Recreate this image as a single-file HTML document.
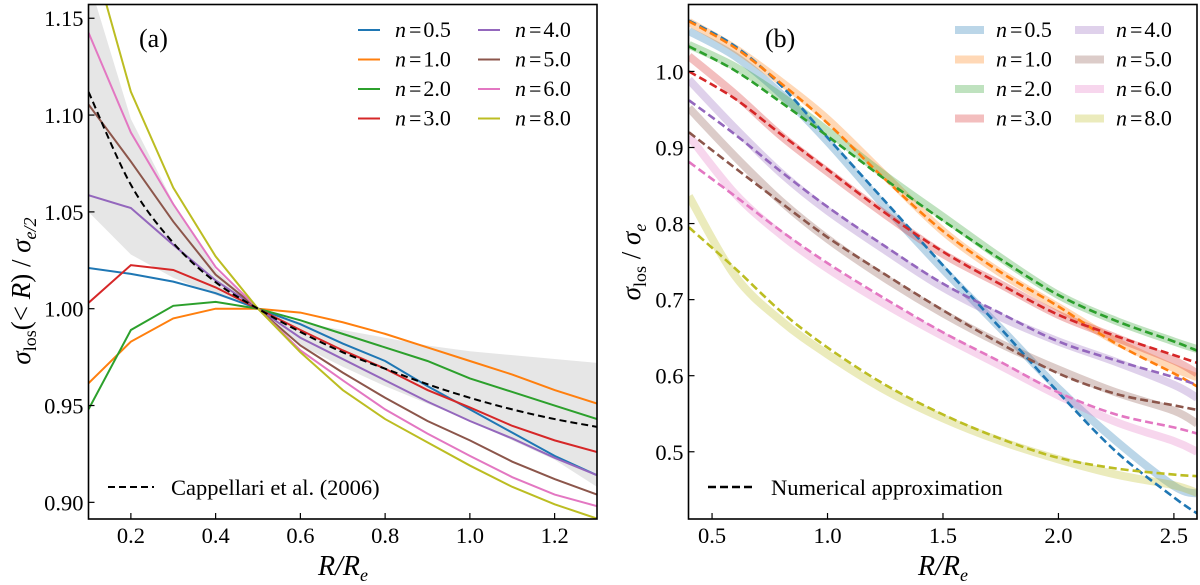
<!DOCTYPE html>
<html><head><meta charset="utf-8">
<style>
html,body{margin:0;padding:0;background:#fff;}
svg{display:block;font-family:"Liberation Serif","DejaVu Serif",serif;}
</style></head>
<body>
<svg id="fig" width="1200" height="585" viewBox="0 0 1200 585" xmlns="http://www.w3.org/2000/svg">
<defs>
<clipPath id="clipA"><rect x="88.5" y="4.5" width="508.5" height="514.5"/></clipPath>
<clipPath id="clipB"><rect x="688.5" y="4.5" width="508.5" height="514.5"/></clipPath>
</defs>
<g id="panelA"></g>
<g id="panelB"></g>
</svg>
<script>
// ---------- Panel (a) data ----------
const xA = [0.1,0.2,0.3,0.4,0.5,0.6,0.7,0.8,0.9,1.0,1.1,1.2,1.3];
const seriesNamesA = ["n = 0.5","n = 1.0","n = 2.0","n = 3.0","n = 4.0","n = 5.0","n = 6.0","n = 8.0"];
const n05A = [1.021,1.018,1.014,1.008,1.0,0.992,0.982,0.973,0.960,0.948,0.936,0.924,0.914];
const n10A = [0.9615,0.983,0.995,1.0,1.0,0.998,0.993,0.987,0.980,0.973,0.966,0.958,0.951];
const n20A = [0.948,0.989,1.0015,1.0035,1.0,0.994,0.987,0.980,0.973,0.964,0.957,0.950,0.943];
const n30A = [1.003,1.0225,1.020,1.011,1.0,0.989,0.9785,0.969,0.958,0.949,0.9395,0.932,0.926];
const n40A = [1.0586,1.052,1.033,1.0146,1.0,0.985,0.974,0.963,0.952,0.942,0.933,0.923,0.914];
const n50A = [1.1055,1.076,1.045,1.0176,1.0,0.981,0.967,0.954,0.942,0.932,0.921,0.912,0.904];
const n60A = [1.1426,1.091,1.054,1.0215,1.0,0.9785,0.963,0.948,0.9355,0.924,0.913,0.904,0.898];
const n80A = [1.19,1.112,1.0625,1.027,1.0,0.9775,0.958,0.943,0.931,0.919,0.908,0.899,0.8916];
const cappA = [1.112,1.064,1.034,1.0137,1.0,0.988,0.9775,0.969,0.961,0.954,0.948,0.943,0.939];
const bandUpperA = [1.17,1.098,1.055,1.02,1.0,0.993,0.989,0.985,0.981,0.978,0.976,0.974,0.972];
const bandLowerA = [1.05,1.028,1.016,1.007,1.0,0.981,0.970,0.960,0.951,0.942,0.932,0.922,0.908];
const xTicksA = [0.2,0.4,0.6,0.8,1.0,1.2];
const xTickLabelsA = ["0.2","0.4","0.6","0.8","1.0","1.2"];
const yTicksA = [0.90,0.95,1.00,1.05,1.10,1.15];
const yTickLabelsA = ["0.90","0.95","1.00","1.05","1.10","1.15"];

// ---------- Panel (b) data ----------
const xB = [0.4,0.6,0.8,1.0,1.25,1.5,1.75,2.0,2.25,2.5,2.6];
const band05B = [1.053,1.02,0.97,0.908,0.822,0.74,0.662,0.583,0.514,0.455,0.445];
const band10B = [1.065,1.03,0.986,0.937,0.863,0.79,0.735,0.69,0.645,0.61,0.598];
const band20B = [1.035,1.006,0.967,0.922,0.863,0.809,0.755,0.706,0.672,0.645,0.635];
const band30B = [1.02,0.97,0.915,0.868,0.812,0.76,0.72,0.68,0.65,0.62,0.603];
const band40B = [0.989,0.925,0.866,0.817,0.765,0.716,0.677,0.645,0.618,0.588,0.571];
const band50B = [0.952,0.888,0.829,0.78,0.728,0.682,0.642,0.608,0.578,0.554,0.537];
const band60B = [0.915,0.839,0.785,0.741,0.694,0.652,0.613,0.574,0.539,0.514,0.5];
const band80B = [0.836,0.731,0.672,0.628,0.581,0.544,0.514,0.49,0.47,0.456,0.446];
const approx05B = [1.067,1.033,0.981,0.913,0.829,0.745,0.662,0.578,0.5,0.44,0.419];
const approx10B = [1.066,1.031,0.984,0.932,0.858,0.79,0.736,0.691,0.642,0.603,0.586];
const approx20B = [1.033,1.001,0.959,0.915,0.858,0.804,0.753,0.706,0.672,0.645,0.633];
const approx30B = [1.0,0.964,0.917,0.871,0.814,0.763,0.72,0.68,0.652,0.627,0.617];
const approx40B = [0.962,0.917,0.868,0.822,0.77,0.721,0.682,0.645,0.62,0.598,0.588];
const approx50B = [0.92,0.873,0.827,0.782,0.733,0.686,0.642,0.603,0.576,0.561,0.555];
const approx60B = [0.881,0.836,0.79,0.748,0.701,0.657,0.618,0.578,0.549,0.532,0.524];
const approx80B = [0.795,0.741,0.684,0.637,0.588,0.549,0.517,0.492,0.478,0.47,0.468];
const xTicksB = [0.5,1.0,1.5,2.0,2.5];
const xTickLabelsB = ["0.5","1.0","1.5","2.0","2.5"];
const yTicksB = [0.5,0.6,0.7,0.8,0.9,1.0];
const yTickLabelsB = ["0.5","0.6","0.7","0.8","0.9","1.0"];

const colors = ["#1f77b4","#ff7f0e","#2ca02c","#d62728","#9467bd","#8c564b","#e377c2","#bcbd22"];
const NS = "http://www.w3.org/2000/svg";

function mk(tag, parent){ const e=document.createElementNS(NS,tag); parent.appendChild(e); return e; }

const axA = {x0:88.5,x1:597,y0:519,y1:4.5,xmin:0.1,xmax:1.3,ymin:0.8914,ymax:1.1571};
const axB = {x0:688.5,x1:1197,y0:519,y1:4.5,xmin:0.398,xmax:2.6,ymin:0.4116,ymax:1.088};
function sx(ax,v){ return ax.x0+(v-ax.xmin)/(ax.xmax-ax.xmin)*(ax.x1-ax.x0); }
function sy(ax,v){ return ax.y0-(v-ax.ymin)/(ax.ymax-ax.ymin)*(ax.y0-ax.y1); }

function linePath(ax,xs,ys){ return xs.map((x,i)=>(i?"L":"M")+sx(ax,x).toFixed(2)+","+sy(ax,ys[i]).toFixed(2)).join(""); }
function smoothPath(ax,xs,ys){
  const p=xs.map((x,i)=>[sx(ax,x),sy(ax,ys[i])]);
  let d="M"+p[0][0].toFixed(2)+","+p[0][1].toFixed(2);
  for(let i=0;i<p.length-1;i++){
    const p0=p[i-1]||p[i], p1=p[i], p2=p[i+1], p3=p[i+2]||p2;
    const c1=[p1[0]+(p2[0]-p0[0])/6, p1[1]+(p2[1]-p0[1])/6];
    const c2=[p2[0]-(p3[0]-p1[0])/6, p2[1]-(p3[1]-p1[1])/6];
    d+="C"+c1[0].toFixed(2)+","+c1[1].toFixed(2)+" "+c2[0].toFixed(2)+","+c2[1].toFixed(2)+" "+p2[0].toFixed(2)+","+p2[1].toFixed(2);
  }
  return d;
}

function drawAxes(g,ax,xt,xtl,yt,ytl,prefix){
  const fr=mk("rect",g);
  
  
  fr.setAttribute("x",ax.x0);fr.setAttribute("y",ax.y1);fr.setAttribute("width",ax.x1-ax.x0);fr.setAttribute("height",ax.y0-ax.y1);
  fr.setAttribute("fill","none");fr.setAttribute("stroke","#000");fr.setAttribute("stroke-width","1.6");
  xt.forEach((v,i)=>{
    const x=sx(ax,v);
    const t=mk("line",g);
    
    
    t.setAttribute("x1",x);t.setAttribute("x2",x);t.setAttribute("y1",ax.y0);t.setAttribute("y2",ax.y0-6);t.setAttribute("stroke","#000");t.setAttribute("stroke-width","1.2");
    const l=mk("text",g);
    
    
    l.setAttribute("x",x);l.setAttribute("y",ax.y0+24);l.setAttribute("text-anchor","middle");l.setAttribute("font-size","22.5");
    l.textContent=xtl[i];
  });
  yt.forEach((v,i)=>{
    const y=sy(ax,v);
    const t=mk("line",g);
    
    
    t.setAttribute("x1",ax.x0);t.setAttribute("x2",ax.x0+6);t.setAttribute("y1",y);t.setAttribute("y2",y);t.setAttribute("stroke","#000");t.setAttribute("stroke-width","1.2");
    const l=mk("text",g);
    
    
    l.setAttribute("x",ax.x0-5);l.setAttribute("y",y+8);l.setAttribute("text-anchor","end");l.setAttribute("font-size","22.5");
    l.textContent=ytl[i];
  });
}

function legendText(g,x,y,label,name){
  const t=mk("text",g);
  
  
  t.setAttribute("x",x);t.setAttribute("y",y+7);t.setAttribute("font-size","22");
  const val=label.split("= ")[1];
  t.innerHTML='<tspan font-style="italic">n</tspan><tspan dx="3">=</tspan><tspan dx="2">'+val+'</tspan>';
}

// ---------- panel (a) ----------
(function(){
  const g=document.getElementById("panelA");
  const ax=axA;
  const data=[n05A,n10A,n20A,n30A,n40A,n50A,n60A,n80A];
  const cg=mk("g",g); cg.setAttribute("clip-path","url(#clipA)");
  
  
  const band=mk("path",cg);
  
  
  const up=xA.map((x,i)=>[sx(ax,x),sy(ax,bandUpperA[i])]);
  const lo=xA.map((x,i)=>[sx(ax,x),sy(ax,bandLowerA[i])]).reverse();
  band.setAttribute("d","M"+up.concat(lo).map(p=>p[0].toFixed(2)+","+p[1].toFixed(2)).join("L")+"Z");
  band.setAttribute("fill","#e6e6e6");
  data.forEach((ys,k)=>{
    const p=mk("path",cg);
    
    
    p.setAttribute("d",linePath(ax,xA,ys));p.setAttribute("fill","none");p.setAttribute("stroke",colors[k]);p.setAttribute("stroke-width","2");
  });
  const c=mk("path",cg);
  
  
  c.setAttribute("d",smoothPath(ax,xA,cappA));c.setAttribute("fill","none");c.setAttribute("stroke","#000");c.setAttribute("stroke-width","2");c.setAttribute("stroke-dasharray","7,4");
  drawAxes(g,ax,xTicksA,xTickLabelsA,yTicksA,yTickLabelsA,"panel-a");
  const lg=mk("g",g);
  
  
  seriesNamesA.forEach((nm,k)=>{
    const col=Math.floor(k/4), row=k%4;
    const lx=358+col*120, ly=30+row*29.5;
    const l=mk("line",lg);
    
    
    l.setAttribute("x1",lx);l.setAttribute("x2",lx+22);l.setAttribute("y1",ly);l.setAttribute("y2",ly);l.setAttribute("stroke",colors[k]);l.setAttribute("stroke-width","2");
    legendText(lg,lx+37,ly,nm,'legend-entry');
  });
  const dl=mk("line",g);
  
  
  dl.setAttribute("x1",108);dl.setAttribute("x2",154);dl.setAttribute("y1",487);dl.setAttribute("y2",487);dl.setAttribute("stroke","#000");dl.setAttribute("stroke-width","2");dl.setAttribute("stroke-dasharray","7,4");
  const dt=mk("text",g);
  
  
  dt.setAttribute("x",171);dt.setAttribute("y",495);dt.setAttribute("font-size","22.5");dt.textContent="Cappellari et al. (2006)";
  const pl=mk("text",g);
  
  
  pl.setAttribute("x",139);pl.setAttribute("y",47);pl.setAttribute("font-size","26");pl.textContent="(a)";
  const yt=mk("text",g);
  
  
  yt.setAttribute("transform","translate(30,291) rotate(-90)");yt.setAttribute("text-anchor","middle");yt.setAttribute("font-size","27");
  yt.innerHTML='<tspan font-style="italic">σ</tspan><tspan font-size="18" dy="6">los</tspan><tspan dy="-6">(&lt;</tspan><tspan font-style="italic"> R</tspan><tspan>) / </tspan><tspan font-style="italic">σ</tspan><tspan font-size="18" font-style="italic" dy="6">e/2</tspan>';
  const xtt=mk("text",g);
  
  
  xtt.setAttribute("x",343);xtt.setAttribute("y",575);xtt.setAttribute("text-anchor","middle");xtt.setAttribute("font-size","28");xtt.setAttribute("font-style","italic");
  xtt.innerHTML='R/R<tspan font-size="18" dy="6">e</tspan>';
})();

// ---------- panel (b) ----------
(function(){
  const g=document.getElementById("panelB");
  const ax=axB;
  const bands=[band05B,band10B,band20B,band30B,band40B,band50B,band60B,band80B];
  const approx=[approx05B,approx10B,approx20B,approx30B,approx40B,approx50B,approx60B,approx80B];
  const cg=mk("g",g); cg.setAttribute("clip-path","url(#clipB)");
  
  
  bands.forEach((ys,k)=>{
    const p=mk("path",cg);
    
    
    p.setAttribute("d",smoothPath(ax,xB,ys));p.setAttribute("fill","none");p.setAttribute("stroke",colors[k]);p.setAttribute("stroke-opacity","0.3");p.setAttribute("stroke-width","8");
  });
  approx.forEach((ys,k)=>{
    const p=mk("path",cg);
    
    
    p.setAttribute("d",smoothPath(ax,xB,ys));p.setAttribute("fill","none");p.setAttribute("stroke",colors[k]);p.setAttribute("stroke-width","2.6");p.setAttribute("stroke-dasharray","8,4");
  });
  drawAxes(g,ax,xTicksB,xTickLabelsB,yTicksB,yTickLabelsB,"panel-b");
  const lg=mk("g",g);
  
  
  seriesNamesA.forEach((nm,k)=>{
    const col=Math.floor(k/4), row=k%4;
    const lx=955+col*120, ly=30+row*29.5;
    const r=mk("rect",lg);
    
    
    r.setAttribute("x",lx);r.setAttribute("y",ly-4);r.setAttribute("width",29);r.setAttribute("height",8);r.setAttribute("fill",colors[k]);r.setAttribute("fill-opacity","0.3");
    legendText(lg,lx+41,ly,nm,'legend-entry');
  });
  const dl=mk("line",g);
  
  
  dl.setAttribute("x1",708);dl.setAttribute("x2",754);dl.setAttribute("y1",487);dl.setAttribute("y2",487);dl.setAttribute("stroke","#000");dl.setAttribute("stroke-width","2.6");dl.setAttribute("stroke-dasharray","8,4");
  const dt=mk("text",g);
  
  
  dt.setAttribute("x",771);dt.setAttribute("y",495);dt.setAttribute("font-size","22.5");dt.textContent="Numerical approximation";
  const pl=mk("text",g);
  
  
  pl.setAttribute("x",765);pl.setAttribute("y",47);pl.setAttribute("font-size","26");pl.textContent="(b)";
  const yt=mk("text",g);
  
  
  yt.setAttribute("transform","translate(640,262) rotate(-90)");yt.setAttribute("text-anchor","middle");yt.setAttribute("font-size","27");
  yt.innerHTML='<tspan font-style="italic">σ</tspan><tspan font-size="18" dy="6">los</tspan><tspan dy="-6"> / </tspan><tspan font-style="italic">σ</tspan><tspan font-size="18" font-style="italic" dy="6">e</tspan>';
  const xtt=mk("text",g);
  
  
  xtt.setAttribute("x",943);xtt.setAttribute("y",575);xtt.setAttribute("text-anchor","middle");xtt.setAttribute("font-size","28");xtt.setAttribute("font-style","italic");
  xtt.innerHTML='R/R<tspan font-size="18" dy="6">e</tspan>';
})();
</script>
</body></html>
